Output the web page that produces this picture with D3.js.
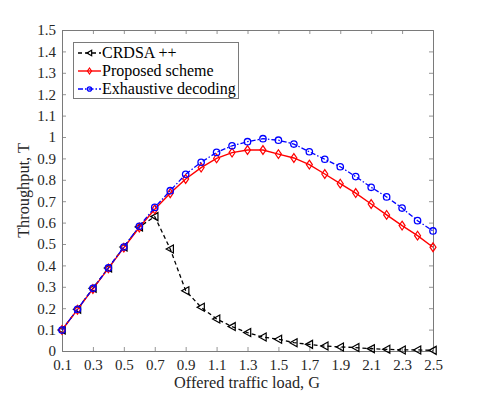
<!DOCTYPE html>
<html><head><meta charset="utf-8">
<script src="https://cdn.jsdelivr.net/npm/d3@7"></script>
<style>body{margin:0;background:#fff}svg{display:block}</style>
</head><body><svg id="c" width="478" height="395" font-family="'Liberation Serif', 'Times New Roman', Times, serif"></svg>
<script>
const G = [0.1,0.2,0.3,0.4,0.5,0.6,0.7,0.8,0.9,1.0,1.1,1.2,1.3,1.4,1.5,1.6,1.7,1.8,1.9,2.0,2.1,2.2,2.3,2.4,2.5];
const crdsa = [0.098,0.195,0.293,0.388,0.486,0.58,0.628,0.477,0.282,0.204,0.15,0.114,0.086,0.065,0.055,0.039,0.031,0.023,0.019,0.016,0.011,0.008,0.005,0.005,0.003];
const proposed = [0.098,0.193,0.29,0.386,0.483,0.577,0.662,0.737,0.804,0.857,0.9,0.927,0.939,0.939,0.92,0.902,0.871,0.827,0.782,0.738,0.687,0.636,0.586,0.539,0.485];
const exhaustive = [0.098,0.195,0.293,0.388,0.486,0.583,0.671,0.749,0.826,0.882,0.928,0.959,0.978,0.992,0.985,0.967,0.931,0.896,0.861,0.815,0.765,0.72,0.668,0.609,0.561];
const xTicks = [0.1,0.3,0.5,0.7,0.9,1.1,1.3,1.5,1.7,1.9,2.1,2.3,2.5];
const yTicks = [0,0.1,0.2,0.3,0.4,0.5,0.6,0.7,0.8,0.9,1,1.1,1.2,1.3,1.4,1.5];
const seriesNames = ["CRDSA ++","Proposed scheme","Exhaustive decoding"];

const FONT="'Liberation Serif', 'Times New Roman', Times, serif";
const svg = d3.select("#c");
const L=62,R=433,T=30,B=351;
const x = d3.scaleLinear().domain([0.1,2.5]).range([L,R]);
const y = d3.scaleLinear().domain([0,1.5]).range([B,T]);
const axisCol="#7a7a7a", textCol="#262626";

function styleAxis(g){g.attr("font-family",FONT).attr("font-size",15);g.selectAll("path,line").attr("stroke",axisCol).attr("stroke-width",0.8);g.selectAll("text").attr("fill",textCol).attr("font-family",FONT).attr("font-size","15px");}
svg.append("g").attr("transform",`translate(0,${B})`).call(d3.axisBottom(x).tickValues(xTicks).tickSizeInner(-4).tickSizeOuter(0).tickPadding(8).tickFormat(d3.format(".1f"))).call(styleAxis);
svg.append("g").attr("transform",`translate(${L},0)`).call(d3.axisLeft(y).tickValues(yTicks).tickSizeInner(-4).tickSizeOuter(0).tickPadding(6).tickFormat(d=>d===0?"0":(d===1?"1":d3.format(".1f")(d)))).call(styleAxis);
svg.append("g").attr("transform",`translate(0,${T})`).call(d3.axisTop(x).tickValues(xTicks).tickSizeInner(-4).tickSizeOuter(0).tickFormat("")).call(styleAxis);
svg.append("g").attr("transform",`translate(${R},0)`).call(d3.axisRight(y).tickValues(yTicks).tickSizeInner(-4).tickSizeOuter(0).tickFormat("")).call(styleAxis);
svg.selectAll(".domain").attr("stroke",axisCol).attr("stroke-width",1);

svg.append("text").attr("x",247).attr("y",388).attr("text-anchor","middle").attr("font-family",FONT).attr("font-size","16.3px").attr("fill",textCol).text("Offered traffic load, G");
svg.append("text").attr("transform",`translate(29,${(T+B)/2}) rotate(-90)`).attr("text-anchor","middle").attr("font-family",FONT).attr("font-size","16.3px").attr("fill",textCol).text("Throughput, T");

const line = d3.line().x((d,i)=>x(G[i])).y(d=>y(d));
function marker(g,type,cx,cy,col,s){
  if(type==="tri"){g.append("path").attr("d",`M${cx-s},${cy} L${cx+s*0.8},${cy-s} L${cx+s*0.8},${cy+s} Z`).attr("fill","none").attr("stroke",col).attr("stroke-width",1.2);}
  else if(type==="dia"){g.append("path").attr("d",`M${cx},${cy-s*1.1} L${cx+s*0.75},${cy} L${cx},${cy+s*1.1} L${cx-s*0.75},${cy} Z`).attr("fill","none").attr("stroke",col).attr("stroke-width",1.2);}
  else {g.append("circle").attr("cx",cx).attr("cy",cy).attr("r",s*0.8).attr("fill","none").attr("stroke",col).attr("stroke-width",1.3);}
}
const series=[
  {v:crdsa,col:"#000000",dash:"4,3",type:"tri",w:1.3},
  {v:proposed,col:"#ff0000",dash:null,type:"dia",w:1.4},
  {v:exhaustive,col:"#0000ff",dash:"5,2,1.5,2",type:"circ",w:1.3}
];
series.forEach(s=>{
  const g=svg.append("g");
  g.append("path").attr("d",line(s.v)).attr("fill","none").attr("stroke",s.col).attr("stroke-width",s.w).attr("stroke-dasharray",s.dash);
  s.v.forEach((d,i)=>marker(g,s.type,x(G[i]),y(d),s.col,4));
});

// legend
const lg=svg.append("g");
lg.append("rect").attr("x",73.5).attr("y",42.5).attr("width",165).attr("height",56).attr("fill","#fff").attr("stroke",axisCol).attr("stroke-width",1);
const rows=[53,71,89];
series.forEach((s,i)=>{
  lg.append("line").attr("x1",78).attr("x2",101).attr("y1",rows[i]).attr("y2",rows[i]).attr("stroke",s.col).attr("stroke-width",s.w).attr("stroke-dasharray",s.dash);
  marker(lg,s.type,89.5,rows[i],s.col,2.7);
  lg.append("text").attr("x",102).attr("y",rows[i]+5).attr("font-family",FONT).attr("font-size","16px").attr("fill","#000").text(seriesNames[i]);
});
</script></body></html>
